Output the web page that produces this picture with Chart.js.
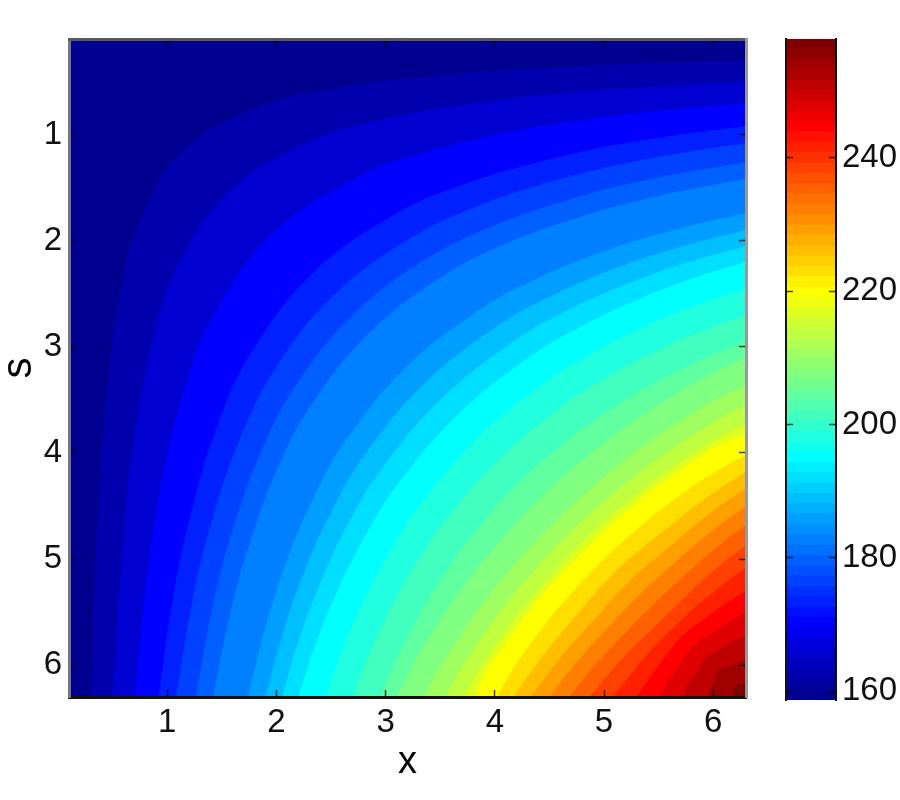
<!DOCTYPE html>
<html>
<head>
<meta charset="utf-8">
<title>x / s contour</title>
<script src="https://cdn.jsdelivr.net/npm/chart.js@4"></script>
<style>
    html, body { margin: 0; background: #fff; width: 900px; height: 800px; overflow: hidden; }
    canvas { position: absolute; top: 0; filter: blur(0.6px); }
    #mapChart { left: 0; }
    #barChart { left: 770px; }
</style>
</head>
<body>
<canvas id="mapChart" width="760" height="800"></canvas>
<canvas id="barChart" width="130" height="800"></canvas>
<script>
const xTicks = [1, 2, 3, 4, 5, 6];
const sTicks = [1, 2, 3, 4, 5, 6];
const colorbarTicks = [160, 180, 200, 220, 240];

// Contour lines: contourX[k], contourS[k] bound band k from above
const contourX = [
    [0.1, 6.3],
    [0.30, 0.37, 0.45, 0.58, 0.75, 1.15, 1.81, 2.44, 3.39, 4.47, 6.3],
    [0.50, 0.59, 0.70, 0.88, 1.10, 1.55, 2.23, 2.88, 3.85, 4.87, 6.3],
    [0.70, 0.82, 0.95, 1.17, 1.40, 1.95, 2.75, 3.35, 4.27, 5.12, 6.3],
    [0.92, 1.05, 1.20, 1.45, 1.75, 2.32, 3.09, 3.77, 4.64, 5.39, 6.3],
    [1.08, 1.23, 1.40, 1.68, 2.00, 2.52, 3.19, 3.83, 4.67, 5.40, 6.3],
    [1.26, 1.42, 1.60, 1.88, 2.20, 2.70, 3.33, 3.94, 4.72, 5.43, 6.3],
    [1.42, 1.57, 1.75, 2.03, 2.35, 2.86, 3.50, 4.10, 4.87, 5.54, 6.3],
    [1.74, 1.90, 2.10, 2.37, 2.65, 3.19, 3.86, 4.36, 5.00, 5.64, 6.3],
    [1.90, 2.05, 2.25, 2.52, 2.80, 3.35, 4.03, 4.52, 5.13, 5.73, 6.3],
    [2.05, 2.20, 2.40, 2.67, 2.95, 3.50, 4.17, 4.64, 5.23, 5.78, 6.3],
    [2.20, 2.35, 2.55, 2.82, 3.10, 3.65, 4.31, 4.77, 5.32, 5.83, 6.3],
    [2.45, 2.60, 2.80, 3.05, 3.30, 3.85, 4.51, 4.91, 5.39, 5.86, 6.3],
    [2.70, 2.85, 3.05, 3.30, 3.55, 4.05, 4.63, 5.01, 5.46, 5.90, 6.3],
    [2.95, 3.10, 3.30, 3.52, 3.75, 4.25, 4.83, 5.17, 5.54, 5.94, 6.3],
    [3.10, 3.26, 3.45, 3.67, 3.90, 4.42, 5.01, 5.32, 5.65, 5.98, 6.3],
    [3.35, 3.50, 3.65, 3.87, 4.10, 4.60, 5.15, 5.45, 5.78, 6.02, 6.3],
    [3.55, 3.67, 3.80, 4.02, 4.25, 4.72, 5.24, 5.54, 5.86, 6.07, 6.3],
    [3.72, 3.83, 3.95, 4.15, 4.35, 4.82, 5.35, 5.61, 5.90, 6.09, 6.3],
    [3.82, 3.93, 4.05, 4.25, 4.45, 4.87, 5.32, 5.58, 5.86, 6.04, 6.3],
    [4.02, 4.13, 4.25, 4.42, 4.60, 5.00, 5.44, 5.67, 5.91, 6.10, 6.3],
    [4.17, 4.45, 4.78, 5.11, 5.49, 5.90, 6.3],
    [4.33, 4.60, 4.91, 5.22, 5.57, 5.93, 6.3],
    [4.50, 4.75, 5.04, 5.33, 5.64, 5.97, 6.3],
    [4.68, 4.91, 5.17, 5.44, 5.72, 6.01, 6.3],
    [4.87, 5.07, 5.31, 5.55, 5.79, 6.05, 6.3],
    [5.08, 5.25, 5.44, 5.64, 5.85, 6.08, 6.3],
    [5.30, 5.43, 5.57, 5.72, 5.91, 6.10, 6.3],
    [5.50, 5.60, 5.71, 5.82, 5.97, 6.14, 6.3],
    [5.72, 5.78, 5.86, 5.93, 6.05, 6.17, 6.3],
    [5.95, 5.98, 6.02, 6.05, 6.13, 6.22, 6.3],
    [6.17, 6.18, 6.19, 6.20, 6.23, 6.27, 6.3]
];
const contourS = [
    [0.1, 0.1],
    [6.3, 4.47, 3.39, 2.44, 1.81, 1.15, 0.75, 0.58, 0.45, 0.37, 0.30],
    [6.3, 4.87, 3.85, 2.88, 2.23, 1.55, 1.10, 0.88, 0.70, 0.59, 0.50],
    [6.3, 5.12, 4.27, 3.35, 2.75, 1.95, 1.40, 1.17, 0.95, 0.82, 0.70],
    [6.3, 5.39, 4.64, 3.77, 3.09, 2.32, 1.75, 1.45, 1.20, 1.05, 0.92],
    [6.3, 5.40, 4.67, 3.83, 3.19, 2.52, 2.00, 1.68, 1.40, 1.23, 1.08],
    [6.3, 5.43, 4.72, 3.94, 3.33, 2.70, 2.20, 1.88, 1.60, 1.42, 1.26],
    [6.3, 5.54, 4.87, 4.10, 3.50, 2.86, 2.35, 2.03, 1.75, 1.57, 1.42],
    [6.3, 5.64, 5.00, 4.36, 3.86, 3.19, 2.65, 2.37, 2.10, 1.90, 1.74],
    [6.3, 5.73, 5.13, 4.52, 4.03, 3.35, 2.80, 2.52, 2.25, 2.05, 1.90],
    [6.3, 5.78, 5.23, 4.64, 4.17, 3.50, 2.95, 2.67, 2.40, 2.20, 2.05],
    [6.3, 5.83, 5.32, 4.77, 4.31, 3.65, 3.10, 2.82, 2.55, 2.35, 2.20],
    [6.3, 5.86, 5.39, 4.91, 4.51, 3.85, 3.30, 3.05, 2.80, 2.60, 2.45],
    [6.3, 5.90, 5.46, 5.01, 4.63, 4.05, 3.55, 3.30, 3.05, 2.85, 2.70],
    [6.3, 5.94, 5.54, 5.17, 4.83, 4.25, 3.75, 3.52, 3.30, 3.10, 2.95],
    [6.3, 5.98, 5.65, 5.32, 5.01, 4.42, 3.90, 3.67, 3.45, 3.26, 3.10],
    [6.3, 6.02, 5.78, 5.45, 5.15, 4.60, 4.10, 3.87, 3.65, 3.50, 3.35],
    [6.3, 6.07, 5.86, 5.54, 5.24, 4.72, 4.25, 4.02, 3.80, 3.67, 3.55],
    [6.3, 6.09, 5.90, 5.61, 5.35, 4.82, 4.35, 4.15, 3.95, 3.83, 3.72],
    [6.3, 6.04, 5.86, 5.58, 5.32, 4.87, 4.45, 4.25, 4.05, 3.93, 3.82],
    [6.3, 6.10, 5.91, 5.67, 5.44, 5.00, 4.60, 4.42, 4.25, 4.13, 4.02],
    [6.3, 5.90, 5.49, 5.11, 4.78, 4.45, 4.17],
    [6.3, 5.93, 5.57, 5.22, 4.91, 4.60, 4.33],
    [6.3, 5.97, 5.64, 5.33, 5.04, 4.75, 4.50],
    [6.3, 6.01, 5.72, 5.44, 5.17, 4.91, 4.68],
    [6.3, 6.05, 5.79, 5.55, 5.31, 5.07, 4.87],
    [6.3, 6.08, 5.85, 5.64, 5.44, 5.25, 5.08],
    [6.3, 6.10, 5.91, 5.72, 5.57, 5.43, 5.30],
    [6.3, 6.14, 5.97, 5.82, 5.71, 5.60, 5.50],
    [6.3, 6.17, 6.05, 5.93, 5.86, 5.78, 5.72],
    [6.3, 6.22, 6.13, 6.05, 6.02, 5.98, 5.95],
    [6.3, 6.27, 6.23, 6.20, 6.19, 6.18, 6.17]
];
const bandColors = [
    '#00008f', '#0000ac', '#0000d0', '#0000ff', '#0020ff', '#0040ff', '#0060ff', '#0080ff',
    '#009fff', '#00bfff', '#00dfff', '#00ffff', '#20ffdf', '#40ffbf', '#60ff9f', '#80ff80',
    '#9fff60', '#bfff40', '#dfff20', '#ffff00', '#ffdf00', '#ffbf00', '#ff9f00', '#ff8000',
    '#ff6000', '#ff4000', '#ff2000', '#ff0000', '#df0000', '#bf0000', '#9f0000', '#800000'
];

// Colorbar: band edges and the 64 jet colours between them
const colorbarEdges = [
    158.7, 160.2, 161.8, 163.3, 164.9, 166.4, 168.0, 169.5, 171.1, 172.6, 174.2, 175.7, 177.3,
    178.8, 180.4, 181.9, 183.5, 185.0, 186.6, 188.1, 189.7, 191.2, 192.8, 194.3, 195.9, 197.4,
    199.0, 200.5, 202.0, 203.6, 205.1, 206.7, 208.2, 209.8, 211.3, 212.9, 214.4, 216.0, 217.5,
    219.1, 220.6, 222.2, 223.7, 225.3, 226.8, 228.4, 229.9, 231.5, 233.0, 234.6, 236.1, 237.7,
    239.2, 240.8, 242.3, 243.9, 245.4, 247.0, 248.5, 250.1, 251.6, 253.2, 254.7, 256.3, 257.8
];
const colorbarColors = [
    '#00008f', '#00009f', '#0000af', '#0000bf', '#0000cf', '#0000df', '#0000ef', '#0000ff',
    '#0010ff', '#0020ff', '#0030ff', '#0040ff', '#0050ff', '#0060ff', '#0070ff', '#0080ff',
    '#008fff', '#009fff', '#00afff', '#00bfff', '#00cfff', '#00dfff', '#00efff', '#00ffff',
    '#10ffef', '#20ffdf', '#30ffcf', '#40ffbf', '#50ffaf', '#60ff9f', '#70ff8f', '#80ff80',
    '#8fff70', '#9fff60', '#afff50', '#bfff40', '#cfff30', '#dfff20', '#efff10', '#ffff00',
    '#ffef00', '#ffdf00', '#ffcf00', '#ffbf00', '#ffaf00', '#ff9f00', '#ff8f00', '#ff8000',
    '#ff7000', '#ff6000', '#ff5000', '#ff4000', '#ff3000', '#ff2000', '#ff1000', '#ff0000',
    '#ef0000', '#df0000', '#cf0000', '#bf0000', '#af0000', '#9f0000', '#8f0000', '#800000'
];

const labelFont = { family: '"Liberation Sans", Arial, sans-serif', size: 33 };
const labelColor = '#111';
const tickMark = 'rgba(0, 0, 0, 0.75)';

function setTicks(list) {
    return function (scale) {
        scale.ticks = list.map(v => ({ value: v }));
    };
}

// Inward MATLAB-style tick marks, drawn on top of the bands
function innerGrid() {
    return { drawOnChartArea: false, drawTicks: true, tickLength: -7, tickWidth: 1.5, tickColor: tickMark, z: 1 };
}

function fixedWidth(w) {
    return function (scale) { scale.width = w; };
}

function fixedHeight(h) {
    return function (scale) { scale.height = h; };
}

// order: the higher bands have to be painted after the lower ones
const mapDatasets = contourX.map((xs, k) => ({
    label: 'band ' + k,
    data: xs.map((x, i) => ({ x: x, y: contourS[k][i] })),
    order: contourX.length - k,
    showLine: true,
    borderWidth: 0,
    pointRadius: 0,
    backgroundColor: bandColors[k],
    tension: 0.4,
    fill: { value: 6.3 }
}));

new Chart(document.getElementById('mapChart'), {
    type: 'scatter',
    data: { datasets: mapDatasets },
    options: {
        responsive: false,
        animation: false,
        events: [],
        layout: { padding: { top: 39, right: 14, left: 0, bottom: 0 } },
        plugins: { legend: { display: false }, tooltip: { enabled: false } },
        scales: {
            x: {
                type: 'linear', position: 'bottom', min: 0.1, max: 6.3,
                afterBuildTicks: setTicks(xTicks),
                afterFit: fixedHeight(103),
                grid: innerGrid(),
                border: { display: true, color: '#15120f', width: 3, z: 2 },
                ticks: { font: labelFont, color: labelColor, padding: 13, maxRotation: 0, autoSkip: false },
                title: { display: true, text: 'x', font: { family: labelFont.family, size: 38 }, color: '#000', padding: { top: 0, bottom: 15 } }
            },
            y: {
                type: 'linear', position: 'left', min: 0.1, max: 6.3, reverse: true,
                afterBuildTicks: setTicks(sTicks),
                afterFit: fixedWidth(69),
                grid: innerGrid(),
                border: { display: true, color: '#77777f', width: 3, z: 2 },
                ticks: { font: labelFont, color: labelColor, padding: 14, autoSkip: false },
                title: { display: true, text: 's', font: { family: labelFont.family, size: 42 }, color: '#000', padding: { top: -6, bottom: 0 } }
            },
            xTop: {
                type: 'linear', position: 'top', min: 0.1, max: 6.3,
                afterBuildTicks: setTicks(xTicks),
                afterFit: fixedHeight(0),
                grid: innerGrid(),
                border: { display: true, color: '#5c5a58', width: 3, z: 2 },
                ticks: { display: false }
            },
            yRight: {
                type: 'linear', position: 'right', min: 0.1, max: 6.3, reverse: true,
                afterBuildTicks: setTicks(sTicks),
                afterFit: fixedWidth(0),
                grid: innerGrid(),
                border: { display: true, color: '#99999c', width: 3, z: 2 },
                ticks: { display: false }
            }
        }
    }
});

// Colorbar, one floating bar per colour
const barDatasets = colorbarColors.map((c, i) => ({
    label: 'level ' + i,
    data: [[colorbarEdges[i], colorbarEdges[i + 1]]],
    backgroundColor: c,
    borderWidth: 0,
    borderSkipped: false,
    barPercentage: 1,
    categoryPercentage: 1,
    grouped: false
}));

new Chart(document.getElementById('barChart'), {
    type: 'bar',
    data: { labels: [''], datasets: barDatasets },
    options: {
        responsive: false,
        animation: false,
        events: [],
        layout: { padding: { top: 39, right: 0, left: 16, bottom: 100 } },
        plugins: { legend: { display: false }, tooltip: { enabled: false } },
        scales: {
            x: { display: false, grid: { display: false } },
            y: {
                type: 'linear', position: 'right', min: 158.7, max: 257.8,
                afterBuildTicks: setTicks(colorbarTicks),
                afterFit: fixedWidth(64),
                grid: innerGrid(),
                border: { display: true, color: '#111', width: 2, z: 2 },
                ticks: { font: labelFont, color: labelColor, padding: 13, autoSkip: false }
            },
            yLeft: {
                type: 'linear', position: 'left', min: 158.7, max: 257.8,
                afterBuildTicks: setTicks(colorbarTicks),
                afterFit: fixedWidth(0),
                grid: innerGrid(),
                border: { display: true, color: '#111', width: 2, z: 2 },
                ticks: { display: false }
            }
        }
    }
});
</script>
</body>
</html>
